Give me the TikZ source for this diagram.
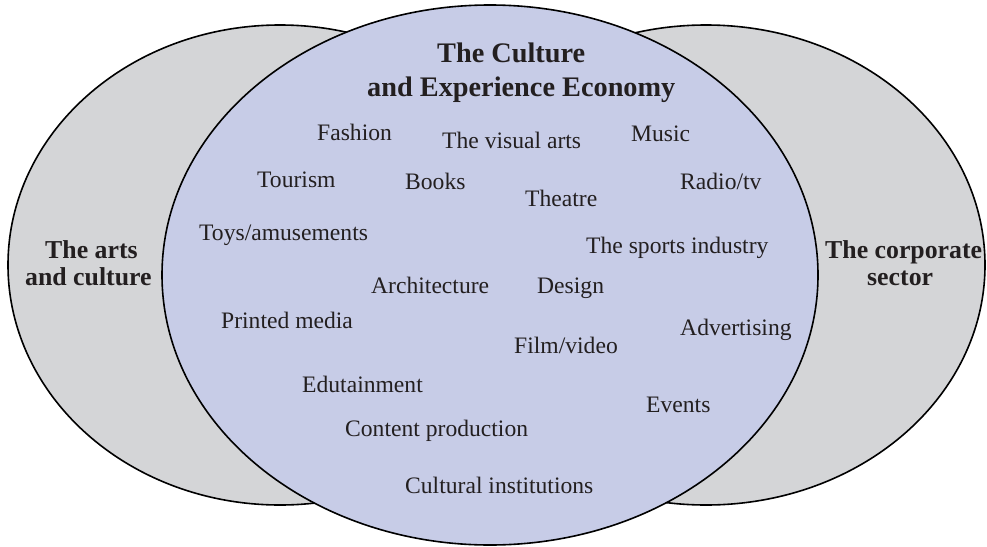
\documentclass[tikz,border=0pt]{standalone}
\usepackage{fontspec}
\setmainfont{Liberation Serif}
\definecolor{grayfill}{RGB}{212,213,215}
\definecolor{bluefill}{RGB}{199,204,231}
\definecolor{txt}{RGB}{35,31,32}
\begin{document}
\begin{tikzpicture}[x=1pt,y=-1pt,
  ring/.style={draw=black, line width=1.6pt},
  item/.style={anchor=base west, inner sep=0pt, text=txt, font=\fontsize{23.6}{28}\selectfont},
  titletext/.style={anchor=base west, inner sep=0pt, text=txt, font=\fontsize{28.3}{34}\selectfont\bfseries},
  sidetext/.style={anchor=base west, inner sep=0pt, text=txt, font=\fontsize{25.8}{31}\selectfont\bfseries}]
\useasboundingbox (0,0) rectangle (987,546);
% ellipses
\draw[ring, fill=grayfill] (280,265) ellipse [x radius=272pt, y radius=240pt];
\draw[ring, fill=grayfill] (706,265) ellipse [x radius=279pt, y radius=240pt];
\draw[ring, fill=bluefill] (490,275) ellipse [x radius=328pt, y radius=270pt];
% title
\node[titletext] (t1) at (437,62) {The Culture};
\node[titletext] (t2) at (367,96) {and Experience Economy};
% side labels
\node[sidetext] (l1) at (45,258) {The arts};
\node[sidetext] (l2) at (25,285) {and culture};
\node[sidetext] (r1) at (825,258) {The corporate};
\node[sidetext] (r2) at (867,285) {sector};
% items
\node[item] (fashion) at (317,140) {Fashion};
\node[item] (visual) at (442,148) {The visual arts};
\node[item] (music) at (631,141) {Music};
\node[item] (tourism) at (257,187) {Tourism};
\node[item] (books) at (405,189) {Books};
\node[item] (theatre) at (525,206) {Theatre};
\node[item] (radio) at (680,189) {Radio/tv};
\node[item] (toys) at (199,240) {Toys/amusements};
\node[item] (sports) at (586,253) {The sports industry};
\node[item] (arch) at (371,293) {Architecture};
\node[item] (design) at (537,293) {Design};
\node[item] (printed) at (221,328) {Printed media};
\node[item] (advert) at (680,335) {Advertising};
\node[item] (film) at (514,353) {Film/video};
\node[item] (edu) at (302,392) {Edutainment};
\node[item] (events) at (646,412) {Events};
\node[item] (content) at (345,436) {Content production};
\node[item] (cultural) at (405,493) {Cultural institutions};
\end{tikzpicture}
\end{document}
